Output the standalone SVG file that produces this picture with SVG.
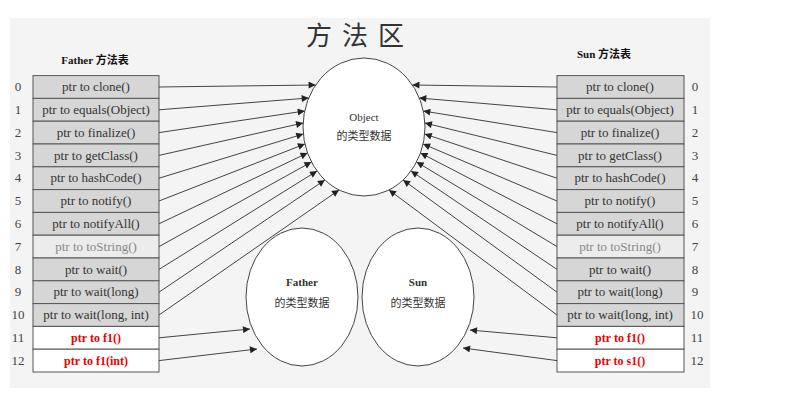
<svg xmlns="http://www.w3.org/2000/svg" width="796" height="414" viewBox="0 0 796 414">
<defs>
<style>
.cell{fill:#d6d6d6;stroke:#555;stroke-width:1}
.w{fill:#fff}
.t{font-family:"Liberation Serif",serif;font-size:13px;fill:#333;text-anchor:middle}
.r{font-family:"Liberation Serif",serif;font-size:12px;fill:#e00;font-weight:bold;text-anchor:middle}
.n{font-family:"Liberation Serif",serif;font-size:13px;fill:#444;text-anchor:middle}
.h{font-family:"Liberation Serif","Noto Sans CJK SC",serif;font-size:11px;font-weight:bold;fill:#111;text-anchor:middle}
.e{fill:#fff;stroke:#444;stroke-width:1}
.c{font-family:"Liberation Serif","Noto Sans CJK SC",serif;font-size:11px;fill:#333;text-anchor:middle}
#conn path{fill:none;stroke:#444;stroke-width:1;marker-end:url(#a)}
</style>
<marker id="a" viewBox="0 0 10 10" refX="10" refY="5" markerWidth="9" markerHeight="7" orient="auto" markerUnits="userSpaceOnUse"><path d="M0,0L10,5L0,10z" fill="#222"/></marker>
</defs>
<rect x="0" y="0" width="796" height="414" fill="#fff"/>
<rect x="10" y="18" width="700" height="370" fill="#f4f4f4"/>
<text x="360" y="45" font-family="Liberation Serif,'Noto Sans CJK SC',serif" font-size="26" fill="#333" text-anchor="middle" letter-spacing="10">方法区</text>
<g id="father-table">
<text class="h" x="95" y="64">Father 方法表</text>
<rect class="cell" x="33" y="75.6" width="126" height="22.8"/><text class="t" x="96" y="91">ptr to clone()</text>
<rect class="cell" x="33" y="98.4" width="126" height="22.8"/><text class="t" x="96" y="114">ptr to equals(Object)</text>
<rect class="cell" x="33" y="121.2" width="126" height="22.8"/><text class="t" x="96" y="137">ptr to finalize()</text>
<rect class="cell" x="33" y="144" width="126" height="22.8"/><text class="t" x="96" y="160">ptr to getClass()</text>
<rect class="cell" x="33" y="166.8" width="126" height="22.8"/><text class="t" x="96" y="182">ptr to hashCode()</text>
<rect class="cell" x="33" y="189.6" width="126" height="22.8"/><text class="t" x="96" y="205">ptr to notify()</text>
<rect class="cell" x="33" y="212.4" width="126" height="22.8"/><text class="t" x="96" y="228">ptr to notifyAll()</text>
<rect class="cell" x="33" y="235.2" width="126" height="22.8" style="fill:#ececec"/><text class="t" x="96" y="251" style="fill:#888">ptr to toString()</text>
<rect class="cell" x="33" y="258" width="126" height="22.8"/><text class="t" x="96" y="274">ptr to wait()</text>
<rect class="cell" x="33" y="280.8" width="126" height="22.8"/><text class="t" x="96" y="296">ptr to wait(long)</text>
<rect class="cell" x="33" y="303.6" width="126" height="22.8"/><text class="t" x="96" y="319">ptr to wait(long, int)</text>
<rect class="cell w" x="33" y="326.4" width="126" height="22.8"/><text class="r" x="96" y="342">ptr to f1()</text>
<rect class="cell w" x="33" y="349.2" width="126" height="22.8"/><text class="r" x="96" y="365">ptr to f1(int)</text>
<text class="n" x="18" y="91">0</text><text class="n" x="18" y="114">1</text><text class="n" x="18" y="137">2</text><text class="n" x="18" y="160">3</text><text class="n" x="18" y="182">4</text><text class="n" x="18" y="205">5</text><text class="n" x="18" y="228">6</text><text class="n" x="18" y="251">7</text><text class="n" x="18" y="274">8</text><text class="n" x="18" y="296">9</text><text class="n" x="18" y="319">10</text><text class="n" x="18" y="342">11</text><text class="n" x="18" y="365">12</text>
</g>
<g id="sun-table">
<text class="h" x="604" y="58">Sun 方法表</text>
<rect class="cell" x="557" y="75.6" width="127" height="22.8"/><text class="t" x="620" y="91">ptr to clone()</text>
<rect class="cell" x="557" y="98.4" width="127" height="22.8"/><text class="t" x="620" y="114">ptr to equals(Object)</text>
<rect class="cell" x="557" y="121.2" width="127" height="22.8"/><text class="t" x="620" y="137">ptr to finalize()</text>
<rect class="cell" x="557" y="144" width="127" height="22.8"/><text class="t" x="620" y="160">ptr to getClass()</text>
<rect class="cell" x="557" y="166.8" width="127" height="22.8"/><text class="t" x="620" y="182">ptr to hashCode()</text>
<rect class="cell" x="557" y="189.6" width="127" height="22.8"/><text class="t" x="620" y="205">ptr to notify()</text>
<rect class="cell" x="557" y="212.4" width="127" height="22.8"/><text class="t" x="620" y="228">ptr to notifyAll()</text>
<rect class="cell" x="557" y="235.2" width="127" height="22.8" style="fill:#ececec"/><text class="t" x="620" y="251" style="fill:#888">ptr to toString()</text>
<rect class="cell" x="557" y="258" width="127" height="22.8"/><text class="t" x="620" y="274">ptr to wait()</text>
<rect class="cell" x="557" y="280.8" width="127" height="22.8"/><text class="t" x="620" y="296">ptr to wait(long)</text>
<rect class="cell" x="557" y="303.6" width="127" height="22.8"/><text class="t" x="620" y="319">ptr to wait(long, int)</text>
<rect class="cell w" x="557" y="326.4" width="127" height="22.8"/><text class="r" x="620" y="342">ptr to f1()</text>
<rect class="cell w" x="557" y="349.2" width="127" height="22.8"/><text class="r" x="620" y="365">ptr to s1()</text>
<text class="n" x="695" y="91">0</text><text class="n" x="695" y="114">1</text><text class="n" x="695" y="137">2</text><text class="n" x="695" y="160">3</text><text class="n" x="695" y="182">4</text><text class="n" x="695" y="205">5</text><text class="n" x="695" y="228">6</text><text class="n" x="695" y="251">7</text><text class="n" x="695" y="274">8</text><text class="n" x="695" y="296">9</text><text class="n" x="697" y="319">10</text><text class="n" x="697" y="342">11</text><text class="n" x="697" y="365">12</text>
</g>
<g id="object">
<ellipse class="e" cx="364" cy="127" rx="61" ry="69"/>
<text class="c" x="364" y="121">Object</text>
<text class="c" x="364" y="140">的类型数据</text>
</g>
<g id="father">
<ellipse class="e" cx="302" cy="297" rx="56" ry="69"/>
<text class="c" x="302" y="286" font-weight="bold">Father</text>
<text class="c" x="302" y="307">的类型数据</text>
</g>
<g id="sun">
<ellipse class="e" cx="418" cy="297" rx="56" ry="69"/>
<text class="c" x="418" y="286" font-weight="bold">Sun</text>
<text class="c" x="418" y="307">的类型数据</text>
</g>
<g id="conn">
<path d="M159,87L315.6,85"/>
<path d="M159,109.8L308.7,98"/>
<path d="M159,132.6L304.7,111"/>
<path d="M159,155.4L303.1,123"/>
<path d="M159,178.2L303.3,134"/>
<path d="M159,201L304.9,144"/>
<path d="M159,223.8L307.5,153"/>
<path d="M159,246.6L311.4,162"/>
<path d="M159,269.4L317,171"/>
<path d="M159,292.2L324.9,180"/>
<path d="M159,315L339,190"/>
<path d="M159,337.8L250,329"/>
<path d="M159,360.6L257,349"/>
<path d="M557,87L412.4,85"/>
<path d="M557,109.8L419.3,98"/>
<path d="M557,132.6L423.3,111"/>
<path d="M557,155.4L424.9,123"/>
<path d="M557,178.2L424.7,134"/>
<path d="M557,201L423.1,144"/>
<path d="M557,223.8L420.5,153"/>
<path d="M557,246.6L416.6,162"/>
<path d="M557,269.4L411,171"/>
<path d="M557,292.2L403.1,180"/>
<path d="M557,315L389,190"/>
<path d="M557,337.8L470,330"/>
<path d="M557,360.6L463,348"/>
</g>
</svg>
